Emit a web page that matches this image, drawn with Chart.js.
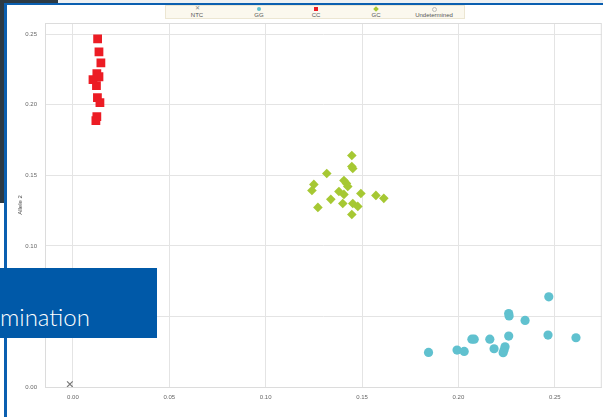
<!DOCTYPE html>
<html>
<head>
<meta charset="utf-8">
<script src="https://cdn.jsdelivr.net/npm/chart.js@4.4.1/dist/chart.umd.min.js"></script>
<style>
  html, body { margin: 0; padding: 0; }
  body { width: 603px; height: 417px; position: relative; overflow: hidden; background: #ffffff; font-family: "Liberation Sans", Arial, sans-serif; }
  #topstrip { position: absolute; left: 0; top: 0; width: 603px; height: 4px; background: #eef0f2; }
  #darktop { position: absolute; left: 0; top: 0; width: 58px; height: 4px; background: #2d3a44; }
  #darkleft { position: absolute; left: 0; top: 0; width: 4px; height: 203px; background: #2d3a44; }
  #blueTop { position: absolute; left: 4px; top: 3px; width: 599px; height: 2px; background: #0b5fb0; }
  #blueLeft { position: absolute; left: 4px; top: 3px; width: 3px; height: 414px; background: #0b5fb0; }
  #wrap { position: absolute; left: 7px; top: 5px; width: 601px; height: 412px; }
  #legend { position: absolute; left: 165px; top: 5px; width: 300px; height: 14px; background: #fbf8ee; border: 1px solid #ece6d2; box-sizing: border-box; }
  .item { position: absolute; top: 0; width: 60px; margin-left: -30px; text-align: center; font-size: 6px; color: #555; }
  .item .lab { position: absolute; top: 6px; left: 0; width: 60px; }
  .sym { position: absolute; top: 1px; left: 28px; width: 4px; height: 4px; }
  #overlay { position: absolute; left: 0; top: 268px; width: 157px; height: 70px; background: #0059a8; }
  #overlay span { position: absolute; left: 0; top: 37px; color: #ffffff; font-family: Lato, "Open Sans", sans-serif; font-weight: 300; font-size: 24px; line-height: 24px; }
</style>
</head>
<body>
<div id="topstrip"></div>
<div id="darktop"></div>
<div id="darkleft"></div>
<div id="blueTop"></div>
<div id="blueLeft"></div>
<div id="wrap"><canvas id="mycanvas" width="601" height="412"></canvas></div>
<div id="legend">
  <div class="item" style="left:31px"><div class="sym" style="color:#888;font-size:6px;line-height:4px;top:0">&#x2715;</div><div class="lab">NTC</div></div>
  <div class="item" style="left:93px"><div class="sym" style="background:#60c1cf;border-radius:50%"></div><div class="lab">GG</div></div>
  <div class="item" style="left:150px"><div class="sym" style="background:#ec1c24"></div><div class="lab">CC</div></div>
  <div class="item" style="left:210px"><div class="sym" style="background:#a6c833;transform:rotate(45deg)"></div><div class="lab">GC</div></div>
  <div class="item" style="left:268px"><div class="sym" style="border:1px solid #bbb;border-radius:50%;width:3px;height:3px"></div><div class="lab">Undetermined</div></div>
</div>
<div id="overlay"><span>mination</span></div>
<script>
// values: [allele 1, allele 2]
var ntcX = [-0.0016];
var ntcY = [0.002];

var ccX = [0.0128, 0.0135, 0.0145, 0.0124, 0.0135, 0.0104, 0.0122, 0.0127, 0.0140, 0.0124, 0.0119];
var ccY = [0.2468, 0.2376, 0.2298, 0.2221, 0.2199, 0.2178, 0.2136, 0.2051, 0.2016, 0.1917, 0.1888];

var gcX = [0.1447, 0.1447, 0.1452, 0.1317, 0.1406, 0.1419, 0.1426, 0.1250, 0.1240, 0.1380,
           0.1406, 0.1494, 0.1338, 0.1572, 0.1613, 0.1400, 0.1452, 0.1478, 0.1271, 0.1447];
var gcY = [0.1641, 0.1563, 0.1549, 0.1513, 0.1464, 0.1443, 0.1421, 0.1436, 0.1393, 0.1386,
           0.1365, 0.1372, 0.1330, 0.1358, 0.1337, 0.1301, 0.1301, 0.1280, 0.1273, 0.1223];

var ggX = [0.1845, 0.1993, 0.2030, 0.2070, 0.2082, 0.2163, 0.2185, 0.2232, 0.2237, 0.2242,
           0.2261, 0.2261, 0.2263, 0.2346, 0.2465, 0.2469, 0.2610];
var ggY = [0.0245, 0.0262, 0.0252, 0.0339, 0.0339, 0.0339, 0.0271, 0.0243, 0.0262, 0.0285,
           0.0361, 0.0521, 0.0504, 0.0472, 0.0368, 0.0639, 0.0349];

var xTicks = [0.00, 0.05, 0.10, 0.15, 0.20, 0.25];
var yTicks = [0.00, 0.05, 0.10, 0.15, 0.20, 0.25];

function pts(xs, ys) {
	var out = [];
	for (var i in xs) {
		out.push({x: xs[i], y: ys[i]});
	}
	return out;
}

var frame = {
	id: 'frame',
	afterDraw: function(chart) {
		var a = chart.chartArea;
		var ctx = chart.ctx;
		ctx.save();
		ctx.strokeStyle = "#dcdcdc";
		ctx.lineWidth = 1;
		ctx.strokeRect(a.left + 0.5, a.top + 0.5, a.right - a.left - 1, a.bottom - a.top);
		ctx.restore();
	}
};

var chartdata = {
	datasets: [
	{
		label: "NTC",
		data: pts(ntcX, ntcY),
		pointStyle: "crossRot",
		pointRadius: 4,
		borderColor: "#7a7a7a",
		borderWidth: 1.2,
		backgroundColor: "#7a7a7a"
	},
	{
		label: "GG",
		data: pts(ggX, ggY),
		pointStyle: "circle",
		pointRadius: 4.6,
		borderWidth: 0,
		backgroundColor: "#60c1cf"
	},
	{
		label: "CC",
		data: pts(ccX, ccY),
		pointStyle: "rect",
		pointRadius: 6.2,
		borderWidth: 0,
		backgroundColor: "#ec1c24"
	},
	{
		label: "GC",
		data: pts(gcX, gcY),
		pointStyle: "rectRot",
		pointRadius: 4.8,
		borderWidth: 0,
		backgroundColor: "#a6c833"
	}
	]
};

var ctx = document.getElementById("mycanvas");
var ScatterGraph = new Chart(ctx, {
	type: 'scatter',
	data: chartdata,
	plugins: [frame],
	options: {
		responsive: false,
		animation: false,
		layout: { padding: { top: 18, right: 1, left: 0, bottom: 0 } },
		plugins: { legend: { display: false }, tooltip: { enabled: false } },
		scales: {
			x: {
				type: 'linear',
				min: -0.0145,
				max: 0.2744,
				afterFit: function(s) { s.height = 30; },
				afterBuildTicks: function(s) { s.ticks = xTicks.map(function(v){ return {value: v}; }); },
				grid: { color: "#e4e4e4", drawTicks: false },
				border: { display: false },
				ticks: {
					padding: 7,
					color: "#666",
					font: { size: 6, family: "Liberation Sans" },
					callback: function(v) { return Number(v).toFixed(2); }
				}
			},
			y: {
				type: 'linear',
				min: 0,
				max: 0.258,
				afterFit: function(s) { s.width = 38; },
				afterBuildTicks: function(s) { s.ticks = yTicks.map(function(v){ return {value: v}; }); },
				grid: { color: "#e4e4e4", drawTicks: false },
				border: { display: false },
				title: { display: true, text: "Allele 2", color: "#444", font: { size: 6, family: "Liberation Sans" }, padding: { top: 10, bottom: 0 } },
				ticks: {
					padding: 8,
					color: "#666",
					font: { size: 6, family: "Liberation Sans" },
					callback: function(v) { return Number(v).toFixed(2); }
				}
			}
		}
	}
});
</script>
</body>
</html>
